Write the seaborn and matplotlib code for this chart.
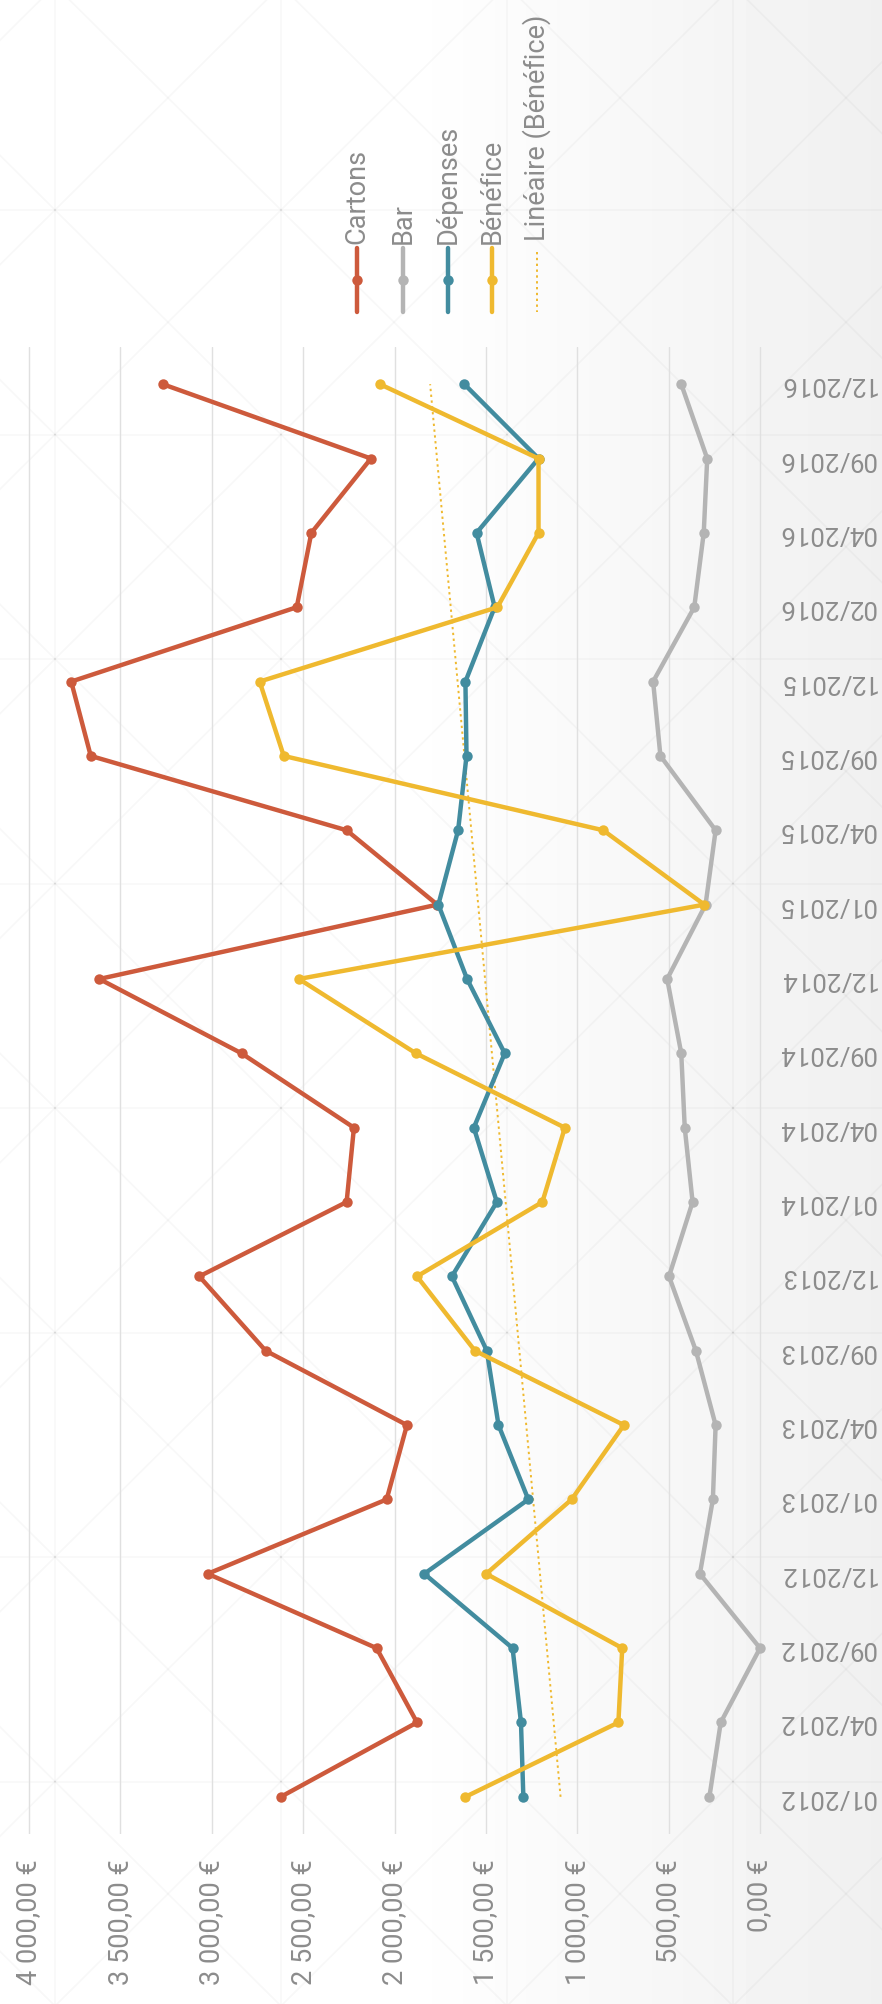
import numpy as np
import pandas as pd
import matplotlib.pyplot as plt
import seaborn as sns

# --- données ---
dates = ['01/2012', '04/2012', '09/2012', '12/2012', '01/2013', '04/2013', '09/2013', '12/2013',
         '01/2014', '04/2014', '09/2014', '12/2014', '01/2015', '04/2015', '09/2015', '12/2015',
         '02/2016', '04/2016', '09/2016', '12/2016']
cartons = [2622, 1877, 2098, 3022, 2043, 1932, 2705, 3068, 2262, 2222,
           2837, 3615, 1766, 2262, 3662, 3769, 2535, 2455, 2129, 3268]
bar = [277, 215, 0, 329, 258, 243, 351, 498, 369, 412,
       431, 508, 298, 243, 545, 585, 360, 308, 289, 431]
depenses = [1295, 1308, 1354, 1837, 1268, 1431, 1495, 1686, 1440, 1566,
            1397, 1603, 1760, 1652, 1606, 1612, 1452, 1551, 1212, 1618]
benefice = [1612, 775, 754, 1498, 1031, 745, 1560, 1877, 1191, 1068,
            1883, 2523, 305, 858, 2606, 2738, 1437, 1212, 1212, 2080]

series = ['Cartons', 'Bar', 'Dépenses', 'Bénéfice']
colors = ['#CD5A3C', '#B4B4B4', '#428C9F', '#EFB92F']
trend_label = 'Linéaire (Bénéfice)'
value_ticks = [0, 500, 1000, 1500, 2000, 2500, 3000, 3500, 4000]
value_labels = ['0,00 €', '500,00 €', '1 000,00 €', '1 500,00 €', '2 000,00 €',
                '2 500,00 €', '3 000,00 €', '3 500,00 €', '4 000,00 €']

df = pd.DataFrame({'date': dates, 'Cartons': cartons, 'Bar': bar,
                   'Dépenses': depenses, 'Bénéfice': benefice})
df['idx'] = np.arange(len(dates))
long_df = df.melt(id_vars=['date', 'idx'], value_vars=series,
                  var_name='serie', value_name='valeur')

sns.set_style('white')
plt.rcParams['font.family'] = ['Roboto', 'DejaVu Sans']
txt_color = '#8c8c8c'
fs = 19.5

W, H = 882, 2004
fig = plt.figure(figsize=(W / 100, H / 100), dpi=100)

# --- fond : dégradé + motif en croix ---
bg = fig.add_axes([0, 0, 1, 1], zorder=-10)
bg.set_xlim(0, W)
bg.set_ylim(H, 0)
bg.axis('off')
xx = np.arange(W)
shade = np.clip((xx - 400) / (W - 400), 0, 1)
row = 1 - 0.06 * shade
bg.imshow(np.tile(row, (2, 1)), cmap='gray', vmin=0, vmax=1,
          extent=(0, W, H, 0), aspect='auto', zorder=0)
cw, ch = 226, 224.5
xs = np.arange(55 - cw, W + cw, cw)
ys = np.arange(210 - ch, H + ch, ch)
pat = dict(color='black', alpha=0.028, lw=1.3, zorder=1)
for x in xs:
    bg.axvline(x, **pat)
for y in ys:
    bg.axhline(y, **pat)
for x0 in xs[:-1]:
    for y0 in ys[:-1]:
        bg.plot([x0, x0 + cw], [y0, y0 + ch], **pat)
        bg.plot([x0, x0 + cw], [y0 + ch, y0], **pat)

# --- graphique principal (pivoté) ---
top_px, bot_px = 347, 1834
left_px, right_px = 10.7, 771
ax = fig.add_axes([left_px / W, (H - bot_px) / H, (right_px - left_px) / W, (bot_px - top_px) / H])
ax.set_facecolor('none')

coef = np.polyfit(df['idx'], df['Bénéfice'], 1)
trend = np.polyval(coef, df['idx'])
ax.plot(trend, df['idx'], color=colors[3], lw=1.4, ls=(0, (1.2, 1.8)), zorder=1.5)

sns.lineplot(data=long_df, x='valeur', y='idx', hue='serie', hue_order=series,
             palette=colors, orient='y', sort=True, errorbar=None, marker='o',
             markersize=7.5, markeredgewidth=0, linewidth=3.2, legend=False, ax=ax)

ax.set_xlim(4100, -60)
ax.set_ylim(-0.5, 19.5)
ax.set_xticks(value_ticks)
ax.set_xticklabels(value_labels, rotation=90)
ax.tick_params(axis='x', length=0, pad=18, labelsize=fs, labelcolor=txt_color)
ax.yaxis.tick_right()
ax.set_yticks(df['idx'])
ax.set_yticklabels(dates, rotation=180, ha='left', va='center')
ax.tick_params(axis='y', length=0, pad=5, labelsize=18.5, labelcolor=txt_color)
ax.grid(axis='x', color='#e0e0e0', lw=1)
ax.grid(axis='y', visible=False)
ax.set_xlabel('')
ax.set_ylabel('')
for s in ax.spines.values():
    s.set_visible(False)

# --- légende (pivotée) ---
leg_x = [357, 403, 448, 492, 537]
for name, col, x in zip(series, colors, leg_x):
    bg.plot([x, x], [248, 312], color=col, lw=3.2, solid_capstyle='round', zorder=3)
    bg.plot([x], [280], 'o', color=col, ms=7.5, mew=0, zorder=3)
    bg.text(x, 244, name, rotation=90, ha='center', va='bottom',
            fontsize=fs, color=txt_color)
bg.plot([leg_x[4], leg_x[4]], [252, 312], color=colors[3], lw=1.4, ls=(0, (1.2, 1.8)), zorder=3)
bg.text(leg_x[4], 241, trend_label, rotation=90, ha='center', va='bottom',
        fontsize=fs, color=txt_color)

fig.savefig('out.png', dpi=100)
